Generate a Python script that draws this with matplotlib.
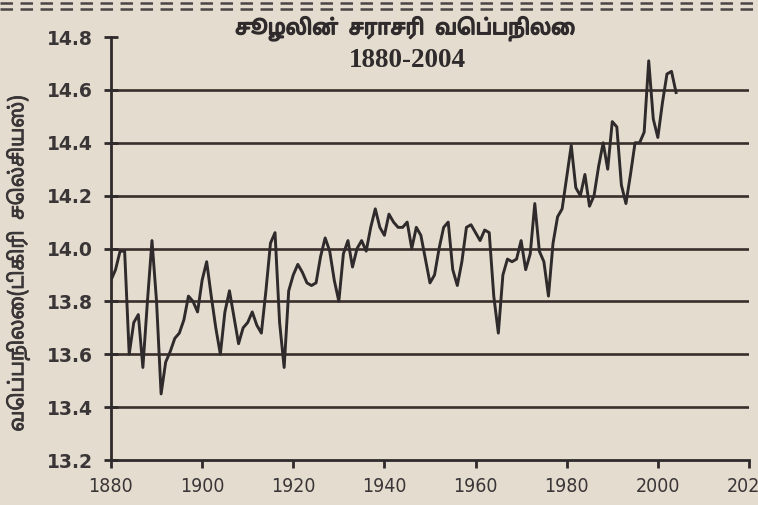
import matplotlib
matplotlib.use("Agg")
import matplotlib.pyplot as plt
import matplotlib.patheffects as pe
from matplotlib.lines import Line2D

# ---------------- data ----------------
years = list(range(1880, 2005))
temps = [
    13.88, 13.92, 13.99, 13.99, 13.60, 13.72, 13.75, 13.55, 13.80, 14.03,  # 1880-1889
    13.80, 13.45, 13.57, 13.61, 13.66, 13.68, 13.73, 13.82, 13.80, 13.76,  # 1890-1899
    13.88, 13.95, 13.82, 13.70, 13.60, 13.76, 13.84, 13.74, 13.64, 13.70,  # 1900-1909
    13.72, 13.76, 13.71, 13.68, 13.84, 14.02, 14.06, 13.72, 13.55, 13.84,  # 1910-1919
    13.90, 13.94, 13.91, 13.87, 13.86, 13.87, 13.97, 14.04, 13.99, 13.88,  # 1920-1929
    13.80, 13.98, 14.03, 13.93, 14.00, 14.03, 13.99, 14.08, 14.15, 14.08,  # 1930-1939
    14.05, 14.13, 14.10, 14.08, 14.08, 14.10, 14.00, 14.08, 14.05, 13.96,  # 1940-1949
    13.87, 13.90, 14.00, 14.08, 14.10, 13.92, 13.86, 13.95, 14.08, 14.09,  # 1950-1959
    14.06, 14.03, 14.07, 14.06, 13.82, 13.68, 13.90, 13.96, 13.95, 13.96,  # 1960-1969
    14.03, 13.92, 13.98, 14.17, 13.99, 13.95, 13.82, 14.02, 14.12, 14.15,  # 1970-1979
    14.27, 14.39, 14.23, 14.20, 14.28, 14.16, 14.20, 14.31, 14.40, 14.30,  # 1980-1989
    14.48, 14.46, 14.24, 14.17, 14.28, 14.40, 14.40, 14.44, 14.71, 14.49,  # 1990-1999
    14.42, 14.55, 14.66, 14.67, 14.59,                                     # 2000-2004
]
x_ticks = [1880, 1900, 1920, 1940, 1960, 1980, 2000, 2020]
x_tick_labels = ["1880", "1900", "1920", "1940", "1960", "1980", "2000", "2020"]
y_ticks = [13.2, 13.4, 13.6, 13.8, 14.0, 14.2, 14.4, 14.6, 14.8]
y_tick_labels = ["13.2", "13.4", "13.6", "13.8", "14.0", "14.2", "14.4", "14.6", "14.8"]
grid_levels = [13.4, 13.6, 13.8, 14.0, 14.2, 14.4, 14.6]
title_line1 = "சூழலின்  சராசரி  வெப்பநிலை"
title_line2 = "1880-2004"
y_label = "வெப்பநிலை(டிகிரி  செல்சியஸ்)"

# ---------------- style ----------------
PAPER = "#e4ddcf"
INK = "#2f2a2b"
GRID = "#3a2e2b"
TAMIL = ["Noto Sans Tamil", "DejaVu Sans"]

fig = plt.figure(figsize=(7.58, 5.05), dpi=100, facecolor=PAPER)
ax = fig.add_axes([0.1464, 0.0891, 0.9881 - 0.1464, 0.9267 - 0.0891])
ax.set_facecolor(PAPER)

for g in grid_levels:
    ax.axhline(g, color=GRID, lw=1.9, zorder=1)

ax.plot(years, temps, color=INK, lw=2.1, zorder=3)

ax.set_xlim(1880, 2020)
ax.set_ylim(13.2, 14.8)
ax.spines["top"].set_visible(False)
ax.spines["right"].set_visible(False)
for s in ("left", "bottom"):
    ax.spines[s].set_color(INK)
    ax.spines[s].set_linewidth(2.0)

ax.set_xticks(x_ticks)
ax.set_xticklabels(x_tick_labels, family="DejaVu Sans", fontstretch="condensed",
                   fontsize=14, color="#3a3537")
ax.set_yticks(y_ticks)
ax.set_yticklabels(y_tick_labels, family="DejaVu Sans", fontweight="bold",
                   fontsize=13.5, color="#3a3537")
ax.tick_params(axis="x", direction="out", length=6, width=2, color=INK, pad=6)
ax.tick_params(axis="y", direction="inout", length=10, width=2, color=INK, pad=8)

fig.text(18 / 758, 0.478, y_label, family=TAMIL, fontsize=14.5, color="#3a3537",
         rotation=90, ha="center", va="center",
         path_effects=[pe.withStroke(linewidth=0.6, foreground="#3a3537")])

fig.text(0.535, 0.943, title_line1, family=TAMIL, fontsize=15,
         color=INK, ha="center", va="center",
         path_effects=[pe.withStroke(linewidth=1.1, foreground=INK)])
fig.text(0.538, 0.880, title_line2, family=["Liberation Serif", "DejaVu Serif"],
         fontweight="bold", fontsize=19.5, color=INK, ha="center", va="center")

# decorative dashed border at the top of the scanned page
for yy in (0.994, 0.982):
    fig.add_artist(Line2D([0, 1], [yy, yy], transform=fig.transFigure, color="#4a4446",
                          lw=1.8, dashes=(5, 3)))

fig.savefig("out.png", dpi=100, facecolor=PAPER)
